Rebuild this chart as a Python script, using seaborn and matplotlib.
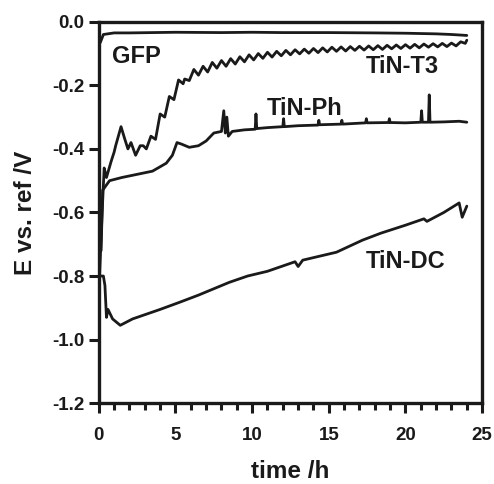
import pandas as pd
import numpy as np
import matplotlib
matplotlib.use('Agg')
import matplotlib.pyplot as plt
import seaborn as sns
from matplotlib.ticker import MultipleLocator, FormatStrFormatter

sns.set_style('ticks')
plt.rcParams['font.family'] = ['Liberation Sans', 'DejaVu Sans']
plt.rcParams['font.weight'] = 'bold'

# ---- data (time in h, potential in V) ----
gfp_t = [0.0, 0.1, 0.3, 1.0, 2.0, 5.0, 8.0, 10.0, 12.0, 15.0, 18.0, 20.0, 22.0, 23.0, 24.0]
gfp_e = [-0.07, -0.065, -0.04, -0.035, -0.035, -0.033, -0.034, -0.033, -0.034, -0.034, -0.035, -0.036,
         -0.038, -0.04, -0.043]

t3_t = [0.05, 0.2, 0.35, 0.5, 0.8, 1.0, 1.1, 1.45, 1.7, 1.9, 2.1, 2.4, 2.7, 2.9, 3.1, 3.4, 3.7, 4.0, 4.3,
        4.6, 4.9, 5.2, 5.5, 5.6, 5.9, 6.2, 6.5, 6.8, 7.1, 7.4, 7.7, 8.0, 8.3, 8.6, 8.9, 9.2, 9.5, 9.8,
        10.1, 10.4, 10.7, 11.0, 11.3, 11.6, 11.9, 12.2, 12.5, 12.8, 13.1, 13.4, 13.7, 14.0, 14.3, 14.6,
        14.9, 15.2, 15.5, 15.8, 16.1, 16.4, 16.7, 17.0, 17.3, 17.6, 17.9, 18.2, 18.5, 18.8, 19.1, 19.4,
        19.7, 20.0, 20.3, 20.6, 20.9, 21.2, 21.5, 21.8, 22.1, 22.4, 22.7, 23.0, 23.3, 23.6, 23.9, 24.0]
t3_e = [-0.80, -0.62, -0.46, -0.49, -0.44, -0.41, -0.39, -0.33, -0.37, -0.40, -0.38, -0.42, -0.39,
        -0.39, -0.40, -0.36, -0.37, -0.29, -0.30, -0.235, -0.245, -0.183, -0.195, -0.18, -0.185,
        -0.150, -0.168, -0.140, -0.158, -0.128, -0.146, -0.122, -0.140, -0.116, -0.133, -0.110,
        -0.126, -0.104, -0.120, -0.100, -0.115, -0.096, -0.111, -0.093, -0.107, -0.090, -0.104,
        -0.088, -0.101, -0.086, -0.099, -0.084, -0.097, -0.082, -0.095, -0.080, -0.093, -0.079,
        -0.092, -0.078, -0.090, -0.077, -0.089, -0.076, -0.088, -0.075, -0.087, -0.074, -0.085,
        -0.073, -0.084, -0.072, -0.083, -0.071, -0.082, -0.070, -0.080, -0.069, -0.079, -0.068,
        -0.078, -0.067, -0.076, -0.063, -0.068, -0.058]

ph_t = [0.15, 0.25, 0.7, 1.5, 2.5, 3.5, 4.4, 4.8, 5.1, 5.4, 5.9, 6.5, 7.0, 7.5, 8.0, 8.15, 8.25, 8.35,
        8.45, 8.7, 9.5, 10.2, 10.25, 10.3, 11.0, 12.0, 12.05, 12.1, 13.0, 14.3, 14.35, 14.4, 15.8,
        15.85, 15.9, 17.4, 17.45, 17.5, 18.9, 18.95, 19.0, 20.0, 21.0, 21.05, 21.1, 21.5, 21.55,
        21.6, 22.5, 23.5, 24.0]
ph_e = [-0.72, -0.53, -0.50, -0.49, -0.48, -0.47, -0.445, -0.42, -0.38, -0.385, -0.395, -0.39,
        -0.375, -0.35, -0.345, -0.28, -0.35, -0.30, -0.36, -0.345, -0.34, -0.338, -0.29, -0.336,
        -0.333, -0.33, -0.305, -0.33, -0.327, -0.325, -0.31, -0.324, -0.322, -0.31, -0.322, -0.318,
        -0.305, -0.318, -0.317, -0.305, -0.317, -0.318, -0.316, -0.28, -0.316, -0.316, -0.23,
        -0.316, -0.315, -0.313, -0.316]

dc_t = [0.0, 0.3, 0.4, 0.5, 0.6, 0.9, 1.4, 2.2, 3.1, 4.0, 5.3, 6.5, 7.5, 8.5, 9.7, 11.0, 12.5,
        12.8, 13.0, 13.3, 15.5, 17.2, 18.4, 20.0, 21.2, 21.4, 22.5, 23.5, 23.7, 24.0]
dc_e = [-0.80, -0.80, -0.83, -0.93, -0.905, -0.935, -0.955, -0.935, -0.92, -0.905, -0.882, -0.86,
        -0.84, -0.82, -0.80, -0.785, -0.76, -0.755, -0.77, -0.75, -0.725, -0.687, -0.665, -0.64,
        -0.62, -0.628, -0.60, -0.57, -0.615, -0.58]

curves = {'GFP': (gfp_t, gfp_e), 'TiN-T3': (t3_t, t3_e), 'TiN-Ph': (ph_t, ph_e), 'TiN-DC': (dc_t, dc_e)}

fig = plt.figure(figsize=(4.94, 4.84), dpi=100)
ax = fig.add_axes([0.2, 0.167, 0.776, 0.788])

for name, (t, e) in curves.items():
    df = pd.DataFrame({'time': t, 'E': e})
    sns.lineplot(data=df, x='time', y='E', ax=ax, color='#1a1a1a', lw=2.0, sort=False, estimator=None)

lab_kw = dict(fontsize=17, fontweight='bold', va='baseline', color='#1a1a1a')
ax.text(0.85, -0.129, 'GFP', ha='left', **lab_kw)
ax.text(19.8, -0.161, 'TiN-T3', ha='center', **lab_kw)
ax.text(13.4, -0.293, 'TiN-Ph', ha='center', **lab_kw)
ax.text(20.0, -0.775, 'TiN-DC', ha='center', **lab_kw)

ax.set_xlim(0, 25)
ax.set_ylim(-1.2, 0.0)
ax.xaxis.set_major_locator(MultipleLocator(5))
ax.xaxis.set_minor_locator(MultipleLocator(1))
ax.yaxis.set_major_locator(MultipleLocator(0.2))
ax.yaxis.set_major_formatter(FormatStrFormatter('%.1f'))
ax.tick_params(which='major', length=7, width=2.2, labelsize=13.5, direction='out', colors='#1a1a1a')
ax.tick_params(which='minor', length=5, width=2.2, direction='out', colors='#1a1a1a')
ax.tick_params(axis='x', pad=10)
for lab in ax.get_xticklabels() + ax.get_yticklabels():
    lab.set_fontweight('bold')
for sp in ax.spines.values():
    sp.set_visible(True)
    sp.set_linewidth(2.4)
    sp.set_color('#1a1a1a')

ax.set_xlabel('time /h', fontsize=17.5, fontweight='bold', labelpad=12, color='#1a1a1a')
ax.set_ylabel('E vs. ref /V', fontsize=17.5, fontweight='bold', labelpad=11, color='#1a1a1a')

fig.savefig('out.png', dpi=100)
